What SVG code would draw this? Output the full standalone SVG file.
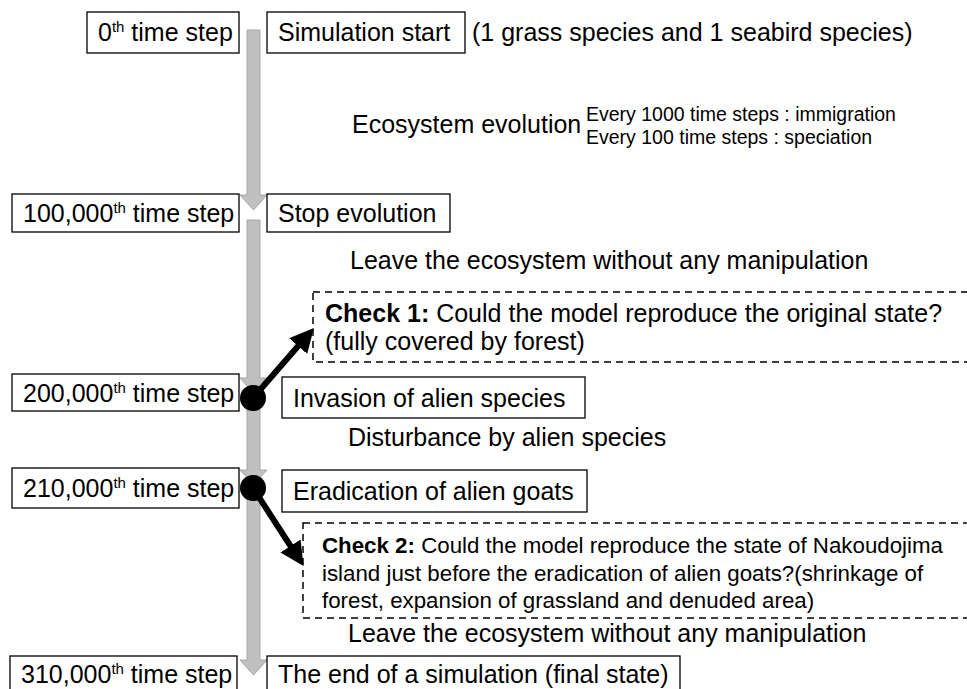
<svg xmlns="http://www.w3.org/2000/svg" width="967" height="689" viewBox="0 0 967 689">
<defs>
<style>
text{font-family:"Liberation Sans",Arial,sans-serif;fill:#000;white-space:pre}
.m{font-size:25px}
.s{font-size:19.5px}
.c2{font-size:22.3px}
.b{font-weight:bold}
.box{fill:#fff;stroke:#000;stroke-width:1.3}
.dash{fill:none;stroke:#000;stroke-width:1.5;stroke-dasharray:7 5}
.garrow{fill:#c0c0c0;stroke:#a6a6a6;stroke-width:1}
.blk{stroke:#000;stroke-width:6;fill:none}
</style>
<marker id="ah" markerWidth="4" markerHeight="4" refX="2" refY="2" orient="auto" markerUnits="strokeWidth">
<path d="M0,0 L4,2 L0,4 Z" fill="#000"/>
</marker>
</defs>

<g id="timeline">
<path class="garrow" d="M247,30 H260 V195 H267 L253.5,210 L240,195 H247 Z"/>
<path class="garrow" d="M247,220 H260 V378 H267 L253.5,393 L240,378 H247 Z"/>
<path class="garrow" d="M247,400 H260 V470 H267 L253.5,485 L240,470 H247 Z"/>
<path class="garrow" d="M247,490 H260 V660 H267 L253.5,675 L240,660 H247 Z"/>
</g>

<g id="t0"><rect class="box" x="87" y="12" width="152" height="41"/>
<text class="m" x="98" y="41">0<tspan font-size="15" dy="-9">th</tspan><tspan dy="9"> time step</tspan></text></g>
<g id="start"><rect class="box" x="267" y="12" width="198" height="41"/>
<text class="m" x="278" y="41">Simulation start</text></g>
<g id="startnote"><text class="m" x="472" y="41">(1 grass species and 1 seabird species)</text></g>

<g id="evo"><text class="m" x="352" y="133">Ecosystem evolution</text>
<text class="s" x="586" y="121">Every 1000 time steps : immigration</text>
<text class="s" x="586" y="144">Every 100 time steps : speciation</text></g>

<g id="t100k"><rect class="box" x="12" y="194" width="227" height="38"/>
<text class="m" x="23" y="222">100,000<tspan font-size="15" dy="-9">th</tspan><tspan dy="9"> time step</tspan></text></g>
<g id="stop"><rect class="box" x="267" y="194" width="183" height="38"/>
<text class="m" x="278" y="222">Stop evolution</text></g>
<g id="leave1"><text class="m" x="350" y="269">Leave the ecosystem without any manipulation</text></g>

<g id="check1"><rect class="dash" x="313" y="292" width="660" height="70"/>
<text class="m" x="325" y="322"><tspan class="b">Check 1:</tspan> Could the model reproduce the original state?</text>
<text class="m" x="325" y="350">(fully covered by forest)</text></g>

<g id="t200k"><rect class="box" x="12" y="374" width="227" height="37"/>
<text class="m" x="23" y="402">200,000<tspan font-size="15" dy="-9">th</tspan><tspan dy="9"> time step</tspan></text></g>
<g id="invasion"><rect class="box" x="282" y="377" width="303" height="41"/>
<text class="m" x="293" y="407">Invasion of alien species</text></g>
<g id="disturb"><text class="m" x="348" y="446">Disturbance by alien species</text></g>

<g id="t210k"><rect class="box" x="12" y="468" width="227" height="40"/>
<text class="m" x="23" y="497">210,000<tspan font-size="15" dy="-9">th</tspan><tspan dy="9"> time step</tspan></text></g>
<g id="eradication"><rect class="box" x="282" y="470" width="305" height="42"/>
<text class="m" x="293" y="500">Eradication of alien goats</text></g>

<g id="check2"><rect class="dash" x="303" y="523" width="670" height="95"/>
<text class="c2" x="322" y="553"><tspan class="b">Check 2:</tspan> Could the model reproduce the state of Nakoudojima</text>
<text class="c2" x="322" y="581">island just before the eradication of alien goats?(shrinkage of</text>
<text class="c2" x="322" y="608">forest, expansion of grassland and denuded area)</text></g>
<g id="leave2"><text class="m" x="348" y="642">Leave the ecosystem without any manipulation</text></g>

<g id="t310k"><rect class="box" x="10" y="656" width="227" height="40"/>
<text class="m" x="21" y="683">310,000<tspan font-size="15" dy="-9">th</tspan><tspan dy="9"> time step</tspan></text></g>
<g id="end"><rect class="box" x="267" y="656" width="413" height="40"/>
<text class="m" x="278" y="683">The end of a simulation (final state)</text></g>

<g id="connectors">
<line class="blk" x1="253" y1="398" x2="306" y2="337" marker-end="url(#ah)"/>
<circle cx="253" cy="398" r="13" fill="#000"/>
<line class="blk" x1="253" y1="488" x2="297" y2="556" marker-end="url(#ah)"/>
<circle cx="253" cy="488" r="13" fill="#000"/>
</g>
</svg>
